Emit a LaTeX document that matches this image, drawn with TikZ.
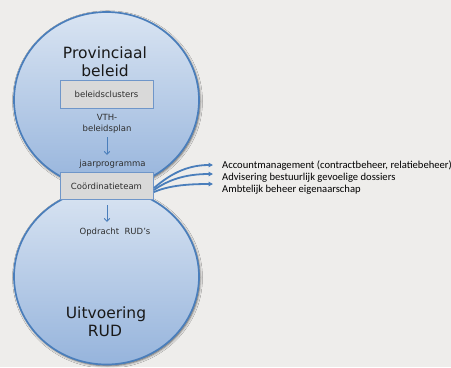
\documentclass[tikz,border=0pt]{standalone}
\usepackage{fontspec}
\setmainfont{DejaVu Sans}
\newfontfamily\listfont{Carlito}
\usetikzlibrary{arrows.meta,shapes.geometric,shadows.blur,calc}
\definecolor{bgcol}{HTML}{EEEDEB}
\definecolor{rimblue}{HTML}{4A7EBB}
\definecolor{lightblue}{HTML}{D9E4F2}
\definecolor{deepblue}{HTML}{96B4DC}
\definecolor{boxgray}{HTML}{D9D9D9}
\definecolor{boxrim}{HTML}{6F96C9}
\definecolor{smalltext}{HTML}{2E2E2E}
\begin{document}
\begin{tikzpicture}[x=1bp,y=-1bp,
  sphere/.style={ellipse, draw=rimblue, line width=1.7bp,
    minimum width=185bp, minimum height=176bp, inner sep=0pt,
    top color=lightblue, bottom color=deepblue,
    blur shadow={shadow xshift=1bp, shadow yshift=-1.2bp,
      shadow blur radius=2.5bp, shadow opacity=65}},
  titletext/.style={anchor=base, inner sep=0pt, text=black!90,
    font=\fontsize{15.5bp}{18bp}\selectfont},
  graybox/.style={draw=boxrim, line width=0.9bp, fill=boxgray,
    minimum width=93bp, inner sep=0pt, text=smalltext,
    font=\fontsize{8.5bp}{10bp}\selectfont},
  labeltext/.style={anchor=base, inner sep=0pt, text=smalltext,
    font=\fontsize{8.5bp}{10bp}\selectfont},
  listtext/.style={anchor=base west, inner sep=0pt, text=black,
    font=\listfont\fontsize{10.6bp}{12bp}\selectfont},
  flowarrow/.style={draw=rimblue, line width=0.9bp,
    -{Straight Barb[length=3bp,width=5.5bp]}},
  fanarrow/.style={draw=rimblue, line width=1.8bp,
    -{Triangle[length=4.5bp,width=4.5bp]}}]

% canvas
\fill[bgcol] (0,0) rectangle (451,367);
\useasboundingbox (0,0) rectangle (451,367);

% the two spheres
\node[sphere] (uitv) at (106.5,276.5) {};
\node[sphere] (prov) at (106.5,100) {};

% upper sphere: provincial policy
\node[titletext] (provA) at (105,58) {Provinciaal};
\node[titletext] (provB) at (105,76) {beleid};
\node[graybox, minimum height=28bp] (clusters) at (106.5,94) {beleidsclusters};
\node[labeltext] (vth) at (107,120) {VTH-};
\node[labeltext] (plan) at (107,131) {beleidsplan};
\coordinate (planEnd) at (107,137);
\coordinate (progTop) at (107,155);
\draw[flowarrow] (planEnd) -- (progTop);
\node[labeltext] (prog) at (112.5,166) {jaarprogramma};

% coordination team between both spheres
\node[graybox, minimum height=26.5bp] (coord) at (106.5,186) {Coördinatieteam};

% lower sphere: execution
\coordinate (coordOut) at (107,205);
\coordinate (taskTop) at (107,222);
\draw[flowarrow] (coordOut) -- (taskTop);
\node[labeltext] (task) at (115,234) {Opdracht\ \ RUD’s};
\node[titletext] (uitvA) at (106,318) {Uitvoering};
\node[titletext] (uitvB) at (105,336) {RUD};

% tasks of the coordination team
\coordinate (t1) at (213,165);
\coordinate (t2) at (213,174);
\coordinate (t3) at (213,184);
\draw[fanarrow] ($(coord.east)+(0.5,2)$) .. controls (168,176) and (185,165) .. (t1);
\draw[fanarrow] ($(coord.east)+(0.5,4)$) .. controls (168,180) and (185,174) .. (t2);
\draw[fanarrow] ($(coord.east)+(0.5,6)$) .. controls (168,186) and (185,184) .. (t3);
\node[listtext] (l1) at (222,168) {Accountmanagement (contractbeheer, relatiebeheer)};
\node[listtext] (l2) at (222,180.5) {Advisering bestuurlijk gevoelige dossiers};
\node[listtext] (l3) at (222,192.5) {Ambtelijk beheer eigenaarschap};
\end{tikzpicture}
\end{document}
